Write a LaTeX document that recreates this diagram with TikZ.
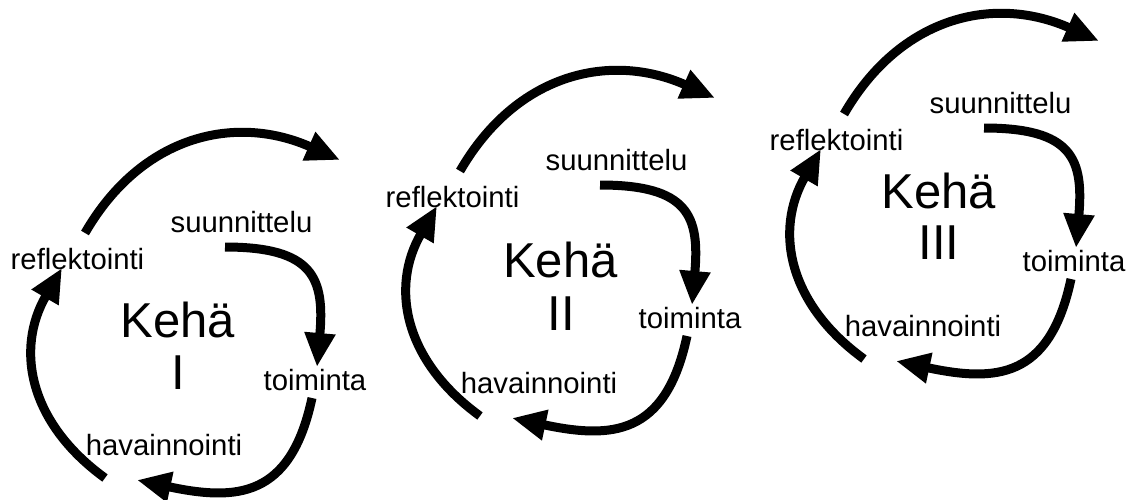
\documentclass[tikz,border=0pt]{standalone}
\usepackage{fontspec}
\setmainfont{Liberation Sans}
\usetikzlibrary{arrows.meta}

\tikzset{
  lbl/.style={anchor=base, inner sep=0pt, font=\fontsize{29.3}{31}\selectfont},
  big/.style={anchor=base, inner sep=0pt, font=\fontsize{49}{52}\selectfont},
  loop/.style={line width=9pt, -{Triangle[length=34pt,width=29pt]}},
}

\begin{document}
\begin{tikzpicture}[x=1pt, y=1pt]
  % page frame, 1135 x 499
  \fill[white] (0,0) rectangle (1135,-499);
  \useasboundingbox (0,0) rectangle (1135,-499);

  % the three cycles share one layout, each shifted up and to the right
  \foreach \n/\dx/\dy in {1/0/0, 2/375/62, 3/759/119} {
    \begin{scope}[shift={(\dx,\dy)}]
      \node[lbl] (suu\n) at (241.5,-232) {suunnittelu};
      \node[lbl] (ref\n) at (77.5,-269)  {reflektointi};
      \node[lbl] (toi\n) at (315,-390)   {toiminta};
      \node[lbl] (hav\n) at (164,-455)   {havainnointi};

      \coordinate (topA\n) at (85,-233);
      \coordinate (topB\n) at (340,-160);
      \coordinate (rgtA\n) at (225,-247);
      \coordinate (rgtB\n) at (317,-367);
      \coordinate (botA\n) at (312,-398);
      \coordinate (botB\n) at (137,-480);
      \coordinate (lftA\n) at (105,-478);
      \coordinate (lftB\n) at (62,-268);

      \draw[loop] (topA\n) to[out=60, in=156, looseness=1.1] (topB\n);
      \draw[loop] (rgtA\n) to[out=0, in=85, looseness=1.5] (rgtB\n);
      \draw[loop] (botA\n) to[out=258, in=-12, looseness=1.35] (botB\n);
      \draw[loop] (lftA\n) to[out=144, in=240, looseness=1.12] (lftB\n);
    \end{scope}
  }

  % cycle titles
  \node[big] (keha1) at (178,-337)   {Kehä};
  \node[big] (num1)  at (178,-389)   {I};
  \node[big] (keha2) at (560.5,-277) {Kehä};
  \node[big] (num2)  at (561,-330)   {II};
  \node[big] (keha3) at (939,-208)   {Kehä};
  \node[big] (num3)  at (939,-259)   {III};
\end{tikzpicture}
\end{document}
